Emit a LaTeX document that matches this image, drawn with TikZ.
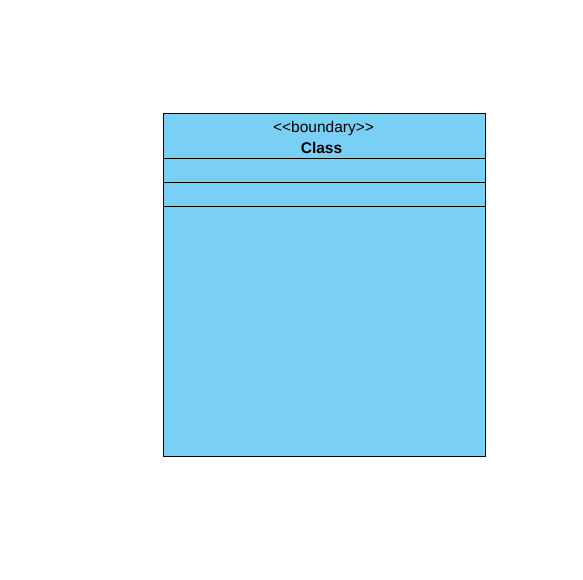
\documentclass[tikz,border=0pt]{standalone}
\usepackage{fontspec}
\setmainfont{Liberation Sans}
\usetikzlibrary{positioning}
\definecolor{boundaryblue}{RGB}{122,207,245}

\begin{document}
\begin{tikzpicture}[x=1pt,y=-1pt,
		part/.style={rectangle, draw, fill=boundaryblue, line width=0.9pt,
				minimum width=322pt, inner sep=0pt, outer sep=0pt},
		txt/.style={font=\fontsize{15.5}{18}\selectfont, inner sep=0pt, anchor=base}]
	\useasboundingbox (0,0) rectangle (583,579);

	% compartments of the class box
	\node[part, anchor=north, minimum height=45pt] (head) at (324.5,113.5) {};
	\node[part, below=0pt of head, minimum height=24pt] (attrs) {};
	\node[part, below=0pt of attrs, minimum height=24pt] (ops) {};
	\node[part, below=0pt of ops, minimum height=250pt] (body) {};

	% stereotype and name
	\node[txt] (stereo) at ([xshift=-1pt,yshift=-18.5pt]head.north) {<\kern0pt<boundary>\kern0pt>};
	\node[txt, font=\fontsize{15.5}{18}\selectfont\bfseries] (name) at ([xshift=-3pt,yshift=-40pt]head.north) {Class};
\end{tikzpicture}
\end{document}
